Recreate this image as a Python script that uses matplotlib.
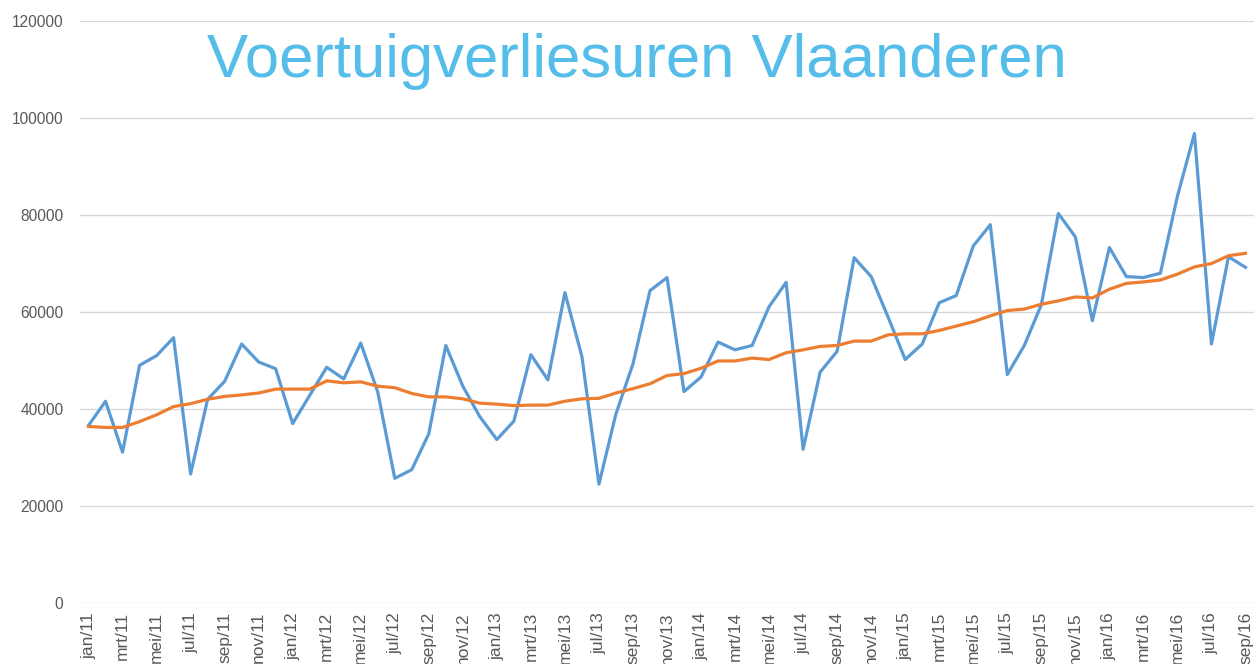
import numpy as np
import matplotlib
matplotlib.use('Agg')
import matplotlib.pyplot as plt

# maanden jan/11 .. sep/16
maanden = ['jan', 'feb', 'mrt', 'apr', 'mei', 'jun', 'jul', 'aug', 'sep', 'okt', 'nov', 'dec']
jaren = ['11', '12', '13', '14', '15', '16']
labels = [f'{m}/{j}' for j in jaren for m in maanden][:69]

verliesuren = [
    36600, 41600, 31100, 49000, 51000, 54700, 26600, 42000, 45700, 53400, 49700, 48300,
    37000, 42800, 48600, 46200, 53600, 43500, 25700, 27500, 34900, 53100, 44700, 38400,
    33700, 37500, 51200, 46000, 64000, 50800, 24500, 39000, 49300, 64400, 67100, 43600,
    46600, 53800, 52200, 53100, 61100, 66100, 31700, 47600, 51900, 71200, 67300, 58900,
    50200, 53400, 61900, 63400, 73600, 78000, 47100, 53100, 61500, 80300, 75500, 58200,
    73300, 67300, 67100, 68000, 83900, 96800, 53400, 71400, 69200,
]

gemiddelde = [
    36400, 36200, 36200, 37400, 38800, 40500, 41100, 42000, 42600, 42900, 43300, 44100,
    44100, 44100, 45800, 45400, 45600, 44700, 44400, 43200, 42500, 42500, 42100, 41200,
    41000, 40700, 40800, 40800, 41600, 42100, 42200, 43300, 44200, 45200, 46900, 47300,
    48400, 49900, 49900, 50500, 50200, 51600, 52200, 52900, 53100, 54000, 54000, 55300,
    55500, 55500, 56200, 57100, 58000, 59200, 60300, 60600, 61600, 62300, 63100, 62900,
    64700, 65900, 66200, 66600, 67800, 69300, 70000, 71600, 72100,
]

x = np.arange(len(labels))

fig = plt.figure(figsize=(12.57, 6.64), dpi=100)
ax = fig.add_axes([80 / 1257, 61 / 664, 1174 / 1257, 582 / 664])

ax.plot(x, verliesuren, color='#5B9BD5', lw=2.3, solid_joinstyle='round', zorder=3)
ax.plot(x, gemiddelde, color='#ED7D31', lw=2.3, solid_joinstyle='round', zorder=4)

ax.set_xlim(-0.5, len(labels) - 0.5)
ax.set_ylim(0, 120000)
ax.set_yticks(np.arange(0, 120001, 20000))
ax.set_xticks(x[::2])
ax.set_xticklabels(labels[::2], rotation=90, va='top', ha='center')

ax.grid(axis='y', color='#D9D9D9', lw=1)
ax.set_axisbelow(True)
for s in ax.spines.values():
    s.set_visible(False)
ax.tick_params(axis='both', length=0, labelcolor='#595959')
ax.tick_params(axis='y', pad=12, labelsize=11.2)
ax.tick_params(axis='x', pad=6.5, labelsize=12.5)
for t in ax.get_xticklabels() + ax.get_yticklabels():
    t.set_fontfamily('Liberation Sans')

fig.text(0.5064, 1 - 77 / 664, 'Voertuigverliesuren Vlaanderen', ha='center', va='baseline',
         fontsize=44.4, color='#55BDEA', family='Liberation Sans')

fig.savefig('out.png', dpi=100)
